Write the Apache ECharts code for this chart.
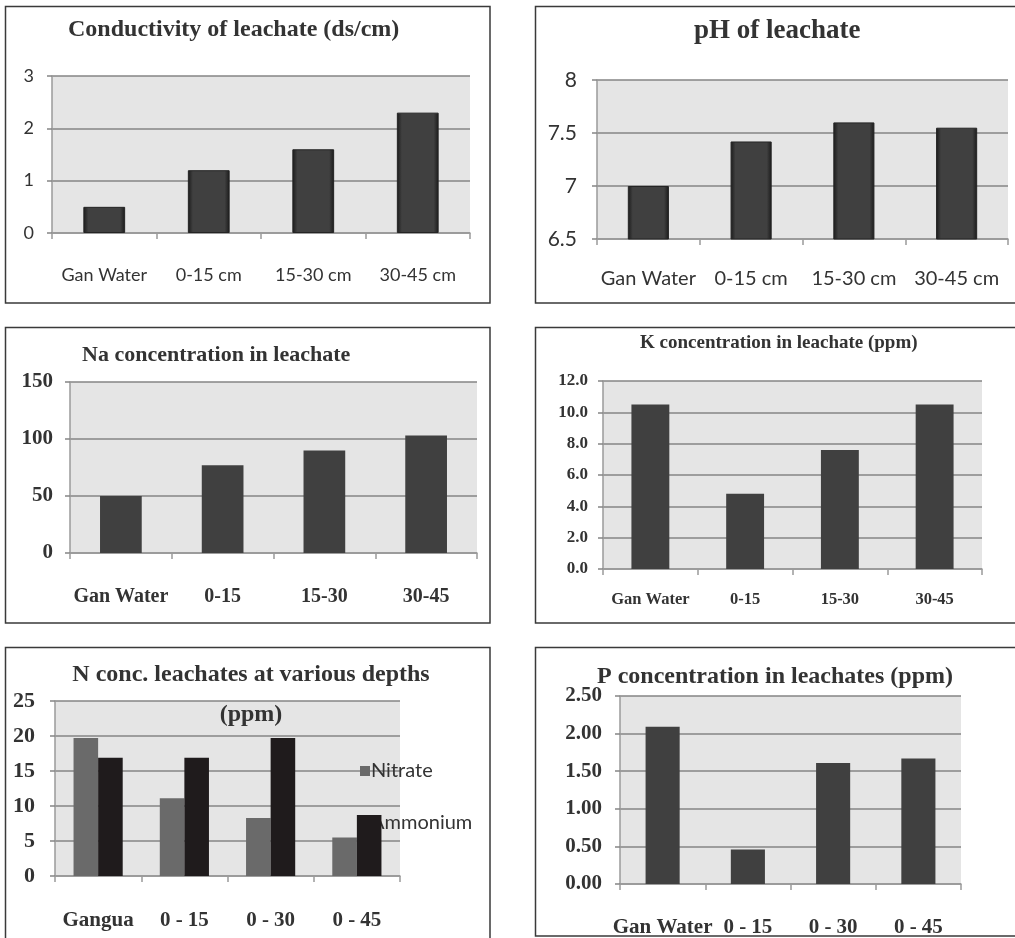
<!DOCTYPE html>
<html>
<head>
<meta charset="utf-8">
<title>Leachate properties at various depths</title>
<script src="https://cdn.jsdelivr.net/npm/echarts@6/dist/echarts.min.js"></script>
<style>
  html, body { margin: 0; padding: 0; background: #ffffff; overflow: hidden; }
  #chart { width: 1015px; height: 938px; }
</style>
</head>
<body>
<div id="chart"></div>
<script>
// ---- data ----
const depthLabelsCm = ['Gan Water', '0-15 cm', '15-30 cm', '30-45 cm'];
const depthLabels = ['Gan Water', '0-15', '15-30', '30-45'];
const nDepthLabels = ['Gangua', '0 - 15', '0 - 30', '0 - 45'];
const pDepthLabels = ['Gan Water', '0 - 15', '0 - 30', '0 - 45'];

const conductivity = [0.5, 1.2, 1.6, 2.3];      // ds/cm
const ph = [7.0, 7.42, 7.6, 7.55];
const sodium = [50, 77, 90, 103];
const potassium = [10.5, 4.8, 7.6, 10.5];        // ppm
const nitrate = [19.7, 11.1, 8.3, 5.5];          // ppm
const ammonium = [16.9, 16.9, 19.7, 8.7];        // ppm
const phosphorus = [2.09, 0.46, 1.61, 1.67];     // ppm

// ---- styling helpers ----
const SERIF = '"Liberation Serif", "DejaVu Serif", serif';
const SANS = 'Lato, "Open Sans", sans-serif';
const TEXT = '#333333';
const PLOT_BG = '#e5e5e5';
const GRID_LINE = '#858585';
const AXIS_LINE = '#9a9a9a';
const BAR = '#404040';

// raised-look fill for the conductivity and pH columns
const bevel = {
  type: 'linear', x: 0, y: 0, x2: 1, y2: 0,
  colorStops: [
    { offset: 0, color: '#1a1a1a' },
    { offset: 0.12, color: '#404040' },
    { offset: 0.88, color: '#404040' },
    { offset: 1, color: '#1a1a1a' }
  ]
};

function gridAt(left, top, width, height) {
  return { left, top, width, height, show: true, backgroundColor: PLOT_BG, borderWidth: 0, containLabel: false };
}

function catAxis(gridIndex, data, font, size, margin, bold) {
  return {
    type: 'category', gridIndex, data,
    axisLine: { show: true, lineStyle: { color: AXIS_LINE, width: 1.5 } },
    axisTick: { show: true, length: 6, lineStyle: { color: AXIS_LINE, width: 1.5 } },
    axisLabel: { fontFamily: font, fontSize: size, fontWeight: bold ? 'bold' : 'normal', color: TEXT, margin, interval: 0 },
    splitLine: { show: false }
  };
}

function valAxis(gridIndex, min, max, interval, font, size, margin, bold, digits) {
  return {
    type: 'value', gridIndex, min, max, interval,
    axisLine: { show: true, lineStyle: { color: AXIS_LINE, width: 1.5 } },
    axisTick: { show: true, length: 5, lineStyle: { color: GRID_LINE, width: 1.5 } },
    axisLabel: {
      fontFamily: font, fontSize: size, fontWeight: bold ? 'bold' : 'normal', color: TEXT, margin,
      formatter: v => digits == null ? String(v) : v.toFixed(digits)
    },
    splitLine: { show: true, lineStyle: { color: GRID_LINE, width: 1.5 } }
  };
}

function titleAt(text, left, top, size, lineHeight) {
  return {
    text, left, top, padding: 0,
    textStyle: { fontFamily: SERIF, fontWeight: 'bold', fontSize: size, color: TEXT, lineHeight: lineHeight || size }
  };
}

function frame(x, y, w, h) {
  return {
    type: 'rect', silent: true, z: 100,
    shape: { x, y, width: w, height: h },
    style: { fill: 'none', stroke: '#3a3a3a', lineWidth: 1.5 }
  };
}

const option = {
  animation: false,
  backgroundColor: '#ffffff',
  title: [
    titleAt('Conductivity of leachate (ds/cm)', 68, 18, 24),
    titleAt('pH of leachate', 694, 18, 27),
    titleAt('Na concentration in leachate', 82, 344, 22),
    titleAt('K concentration in leachate (ppm)', 640, 334, 19),
    Object.assign(titleAt('N conc. leachates at various depths\n(ppm)', 251, 655, 24, 40), { textAlign: 'center' }),
    titleAt('P concentration in leachates (ppm)', 597, 665, 24)
  ],
  grid: [
    gridAt(52, 76, 418, 157),
    gridAt(597, 80, 411, 159),
    gridAt(70, 382, 407, 171),
    gridAt(603, 381, 379, 188),
    gridAt(55, 701, 345, 175),
    gridAt(620, 696, 341, 192)
  ],
  xAxis: [
    catAxis(0, depthLabelsCm, SANS, 18, 33, false),
    catAxis(1, depthLabelsCm, SANS, 20, 30, false),
    catAxis(2, depthLabels, SERIF, 20, 34, true),
    catAxis(3, depthLabels, SERIF, 16.5, 22, true),
    catAxis(4, nDepthLabels, SERIF, 21, 34, true),
    catAxis(5, pDepthLabels, SERIF, 21, 33, true)
  ],
  yAxis: [
    valAxis(0, 0, 3, 1, SANS, 18, 18, false, null),
    valAxis(1, 6.5, 8, 0.5, SANS, 21, 20, false, null),
    valAxis(2, 0, 150, 50, SERIF, 21, 17, true, null),
    valAxis(3, 0, 12, 2, SERIF, 17, 15, true, 1),
    valAxis(4, 0, 25, 5, SERIF, 22, 20, true, null),
    valAxis(5, 0, 2.5, 0.5, SERIF, 21, 18, true, 2)
  ],
  legend: {
    orient: 'vertical', left: 355, top: 756, z: 1,
    itemWidth: 10, itemHeight: 10, itemGap: 32, icon: 'rect',
    data: ['Nitrate', 'Ammonium'],
    textStyle: { fontFamily: SANS, fontSize: 20, color: TEXT, padding: [0, 0, 0, -4] }
  },
  series: [
    { name: 'Conductivity', type: 'bar', xAxisIndex: 0, yAxisIndex: 0, data: conductivity, barWidth: '40%',
      itemStyle: { color: bevel, borderColor: '#242424', borderWidth: 1 } },
    { name: 'pH', type: 'bar', xAxisIndex: 1, yAxisIndex: 1, data: ph, barWidth: '40%',
      itemStyle: { color: bevel, borderColor: '#242424', borderWidth: 1 } },
    { name: 'Na', type: 'bar', xAxisIndex: 2, yAxisIndex: 2, data: sodium, barWidth: '41%',
      itemStyle: { color: BAR } },
    { name: 'K', type: 'bar', xAxisIndex: 3, yAxisIndex: 3, data: potassium, barWidth: '40%',
      itemStyle: { color: BAR } },
    { name: 'Nitrate', type: 'bar', xAxisIndex: 4, yAxisIndex: 4, data: nitrate, z: 3,
      barGap: '0%', barCategoryGap: '43%', itemStyle: { color: '#6a6a6a' } },
    { name: 'Ammonium', type: 'bar', xAxisIndex: 4, yAxisIndex: 4, data: ammonium, z: 3,
      barGap: '0%', barCategoryGap: '43%', itemStyle: { color: '#1f1b1c' } },
    { name: 'P', type: 'bar', xAxisIndex: 5, yAxisIndex: 5, data: phosphorus, barWidth: '40%',
      itemStyle: { color: BAR } }
  ],
  graphic: [
    frame(5.5, 6.5, 484.5, 296.5),
    frame(535.5, 6.5, 490, 296.5),
    frame(5.5, 327.5, 484.5, 295.5),
    frame(535.5, 327.5, 490, 295.5),
    frame(5.5, 647.5, 484.5, 300),
    frame(535.5, 647.5, 490, 288.5)
  ]
};

const chart = echarts.init(document.getElementById('chart'), null, { renderer: 'canvas' });
chart.setOption(option);
</script>
</body>
</html>
